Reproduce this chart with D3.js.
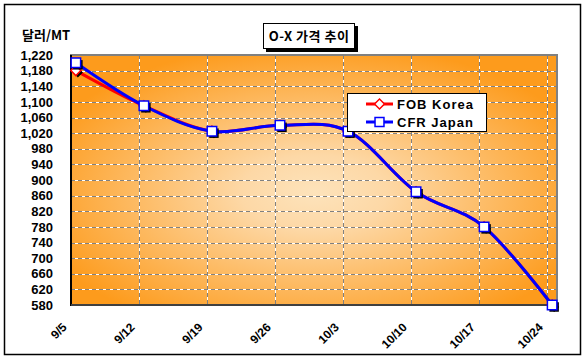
<!DOCTYPE html>
<html>
<head>
<meta charset="utf-8">
<script src="https://cdn.jsdelivr.net/npm/d3@7"></script>
<style>
  body { margin: 0; background: #fff; }
  text { font-family: "Liberation Sans", Arial, "Noto Sans CJK KR", sans-serif; font-weight: bold; fill: #000; }
  .kr { font-family: "Noto Sans CJK KR", "Liberation Sans", sans-serif; }
</style>
</head>
<body>
<div id="chart"></div>
<script>
// chart data
let dateLabels = ['9/5', '9/12', '9/19', '9/26', '10/3', '10/10', '10/17', '10/24'];
let fobKorea = [1180, 1090, 1025, 1040, 1025, 870, 780, 580];
let cfrJapan = [1200, 1090, 1025, 1040, 1025, 870, 780, 580];
let yTicks = d3.range(580, 1221, 40);

let svgWidth = 587;
let svgHeight = 360;

let plot = { left: 71, right: 557, top: 55, bottom: 305 };

// turn "9/5" into a date
function toDate(s) {
    let p = s.split('/');
    return new Date(Date.UTC(2008, +p[0] - 1, +p[1]));
}
let dates = dateLabels.map(toDate);
let dayMs = 86400000;

let svg = d3.select('#chart')
    .append('svg')
    .attr('width', svgWidth)
    .attr('height', svgHeight);

let defs = svg.append('defs');
let grad = defs.append('radialGradient')
    .attr('id', 'plotFill')
    .attr('cx', 0.5).attr('cy', 0.55).attr('r', 0.6);
grad.append('stop').attr('offset', '0%').attr('stop-color', '#fde3bb');
grad.append('stop').attr('offset', '25%').attr('stop-color', '#fdd8a6');
grad.append('stop').attr('offset', '100%').attr('stop-color', '#fd9b1c');

// outer frame
svg.append('rect')
    .attr('x', 4.5).attr('y', 4.5)
    .attr('width', 576).attr('height', 350)
    .attr('fill', '#fff')
    .attr('stroke', '#000')
    .attr('stroke-width', 1.5);

// scales
let xScale = d3.scaleUtc()
    .domain([dates[0], new Date(+dates[dates.length - 1] + dayMs)])
    .range([plot.left, plot.right]);

let yScale = d3.scaleLinear()
    .domain([580, 1220])
    .range([plot.bottom, plot.top]);

let mid = d => new Date(+d + dayMs / 2);

// plot background
svg.append('rect')
    .attr('x', plot.left).attr('y', plot.top)
    .attr('width', plot.right - plot.left)
    .attr('height', plot.bottom - plot.top)
    .attr('fill', 'url(#plotFill)');

// horizontal gridlines
let hGrid = svg.append('g');
yTicks.slice(1, -1).forEach(v => {
    hGrid.append('line')
        .attr('x1', plot.left).attr('x2', plot.right)
        .attr('y1', Math.round(yScale(v)) + 0.5).attr('y2', Math.round(yScale(v)) + 0.5)
        .attr('stroke', '#fff');
    hGrid.append('line')
        .attr('x1', plot.left).attr('x2', plot.right)
        .attr('y1', Math.round(yScale(v)) + 0.5).attr('y2', Math.round(yScale(v)) + 0.5)
        .attr('stroke', '#808080')
        .attr('stroke-dasharray', '4,3');
});

// vertical gridlines at week boundaries
dates.slice(1).forEach(d => {
    let x = Math.round(xScale(d)) + 0.5;
    hGrid.append('line')
        .attr('x1', x).attr('x2', x)
        .attr('y1', plot.top).attr('y2', plot.bottom)
        .attr('stroke', '#fff');
    hGrid.append('line')
        .attr('x1', x).attr('x2', x)
        .attr('y1', plot.top).attr('y2', plot.bottom)
        .attr('stroke', '#808080')
        .attr('stroke-dasharray', '4,3');
});

// plot border
svg.append('rect')
    .attr('x', plot.left).attr('y', plot.top)
    .attr('width', plot.right - plot.left)
    .attr('height', plot.bottom - plot.top)
    .attr('fill', 'none')
    .attr('stroke', '#808080')
    .attr('stroke-width', 2);

// axis lines
svg.append('line')
    .attr('x1', plot.left).attr('x2', plot.left)
    .attr('y1', plot.top).attr('y2', plot.bottom + 1)
    .attr('stroke', '#000').attr('stroke-width', 2);
svg.append('line')
    .attr('x1', plot.left).attr('x2', plot.right)
    .attr('y1', plot.bottom).attr('y2', plot.bottom)
    .attr('stroke', '#404040').attr('stroke-width', 2);

// y axis
let leftAxis = d3.axisLeft(yScale)
    .tickValues(yTicks)
    .tickFormat(d3.format(','))
    .tickSize(0)
    .tickPadding(0);

let yAxis = svg.append('g')
    .attr('transform', 'translate(53, 0)')
    .call(leftAxis);
yAxis.select('.domain').remove();
yAxis.selectAll('text')
    .attr('font-size', 13)
    .attr('font-family', '"Liberation Sans", Arial, sans-serif')
    .attr('font-weight', 'bold')
    .attr('fill', '#000');

// x axis labels (rotated)
let bottomAxis = d3.axisBottom(xScale)
    .tickValues(dates)
    .tickFormat((d, i) => dateLabels[i])
    .tickSize(0)
    .tickPadding(0);

let xAxis = svg.append('g')
    .attr('transform', `translate(0, ${plot.bottom})`)
    .call(bottomAxis);
xAxis.select('.domain').remove();
xAxis.selectAll('text')
    .attr('font-size', 12)
    .attr('font-family', '"Liberation Sans", Arial, sans-serif')
    .attr('font-weight', 'bold')
    .attr('fill', '#000')
    .attr('text-anchor', 'end')
    .attr('dy', 0)
    .attr('y', 0)
    .attr('transform', 'translate(-4, 23) rotate(-45)');

// series
let lineGen = d3.line()
    .x((d, i) => xScale(mid(dates[i])))
    .y(d => yScale(d))
    .curve(d3.curveCatmullRom.alpha(0));

function drawSeries(values, color, shape) {
    let g = svg.append('g');
    g.append('path')
        .attr('d', lineGen(values))
        .attr('fill', 'none')
        .attr('stroke', color)
        .attr('stroke-width', 3);

    let symbol = d3.symbol()
        .type(d3.symbolSquare)
        .size(shape === 'diamond' ? 50 : 90);

    let pts = g.selectAll('g.pt')
        .data(values)
        .enter()
        .append('g')
        .attr('transform', (d, i) => `translate(${xScale(mid(dates[i]))}, ${yScale(d)})`);

    // shadow
    pts.append('path')
        .attr('d', symbol())
        .attr('transform', shape === 'diamond' ? 'translate(2,2) rotate(45)' : 'translate(2,2)')
        .attr('fill', '#000');

    pts.append('path')
        .attr('d', symbol())
        .attr('transform', shape === 'diamond' ? 'rotate(45)' : null)
        .attr('fill', '#fff')
        .attr('stroke', color)
        .attr('stroke-width', 1.5);
}

drawSeries(fobKorea, '#ff0000', 'diamond');
drawSeries(cfrJapan, '#0000ff', 'square');

// legend
let legend = svg.append('g');
legend.append('rect')
    .attr('x', 347.5).attr('y', 93.5)
    .attr('width', 139).attr('height', 38)
    .attr('fill', '#fff')
    .attr('stroke', '#000')
    .attr('stroke-width', 1);

let legendItems = [
    { label: 'FOB Korea', color: '#ff0000', shape: 'diamond', y: 104 },
    { label: 'CFR Japan', color: '#0000ff', shape: 'square', y: 122 }
];
legendItems.forEach(item => {
    legend.append('line')
        .attr('x1', 366).attr('x2', 393)
        .attr('y1', item.y).attr('y2', item.y)
        .attr('stroke', item.color)
        .attr('stroke-width', 3);
    legend.append('path')
        .attr('d', d3.symbol().type(d3.symbolSquare).size(item.shape === 'diamond' ? 50 : 80)())
        .attr('transform', item.shape === 'diamond'
            ? `translate(379.5, ${item.y}) rotate(45)`
            : `translate(379.5, ${item.y})`)
        .attr('fill', '#fff')
        .attr('stroke', item.color)
        .attr('stroke-width', 1.5);
    legend.append('text')
        .attr('x', 397)
        .attr('y', item.y + 5)
        .attr('font-size', 13)
        .attr('letter-spacing', 1)
        .text(item.label);
});

// title box
svg.append('rect')
    .attr('x', 266).attr('y', 26)
    .attr('width', 92).attr('height', 26)
    .attr('fill', '#000');
svg.append('rect')
    .attr('x', 263.5).attr('y', 23.5)
    .attr('width', 91).attr('height', 25)
    .attr('fill', '#fff')
    .attr('stroke', '#000')
    .attr('stroke-width', 1);
svg.append('text')
    .attr('class', 'kr')
    .attr('x', 309)
    .attr('y', 41)
    .attr('text-anchor', 'middle')
    .attr('font-size', 13)
    .attr('letter-spacing', 0.5)
    .text('O-X 가격 추이');

// unit label
svg.append('text')
    .attr('class', 'kr')
    .attr('x', 22)
    .attr('y', 40)
    .attr('font-size', 13)
    .text('달러/MT');
</script>
</body>
</html>
